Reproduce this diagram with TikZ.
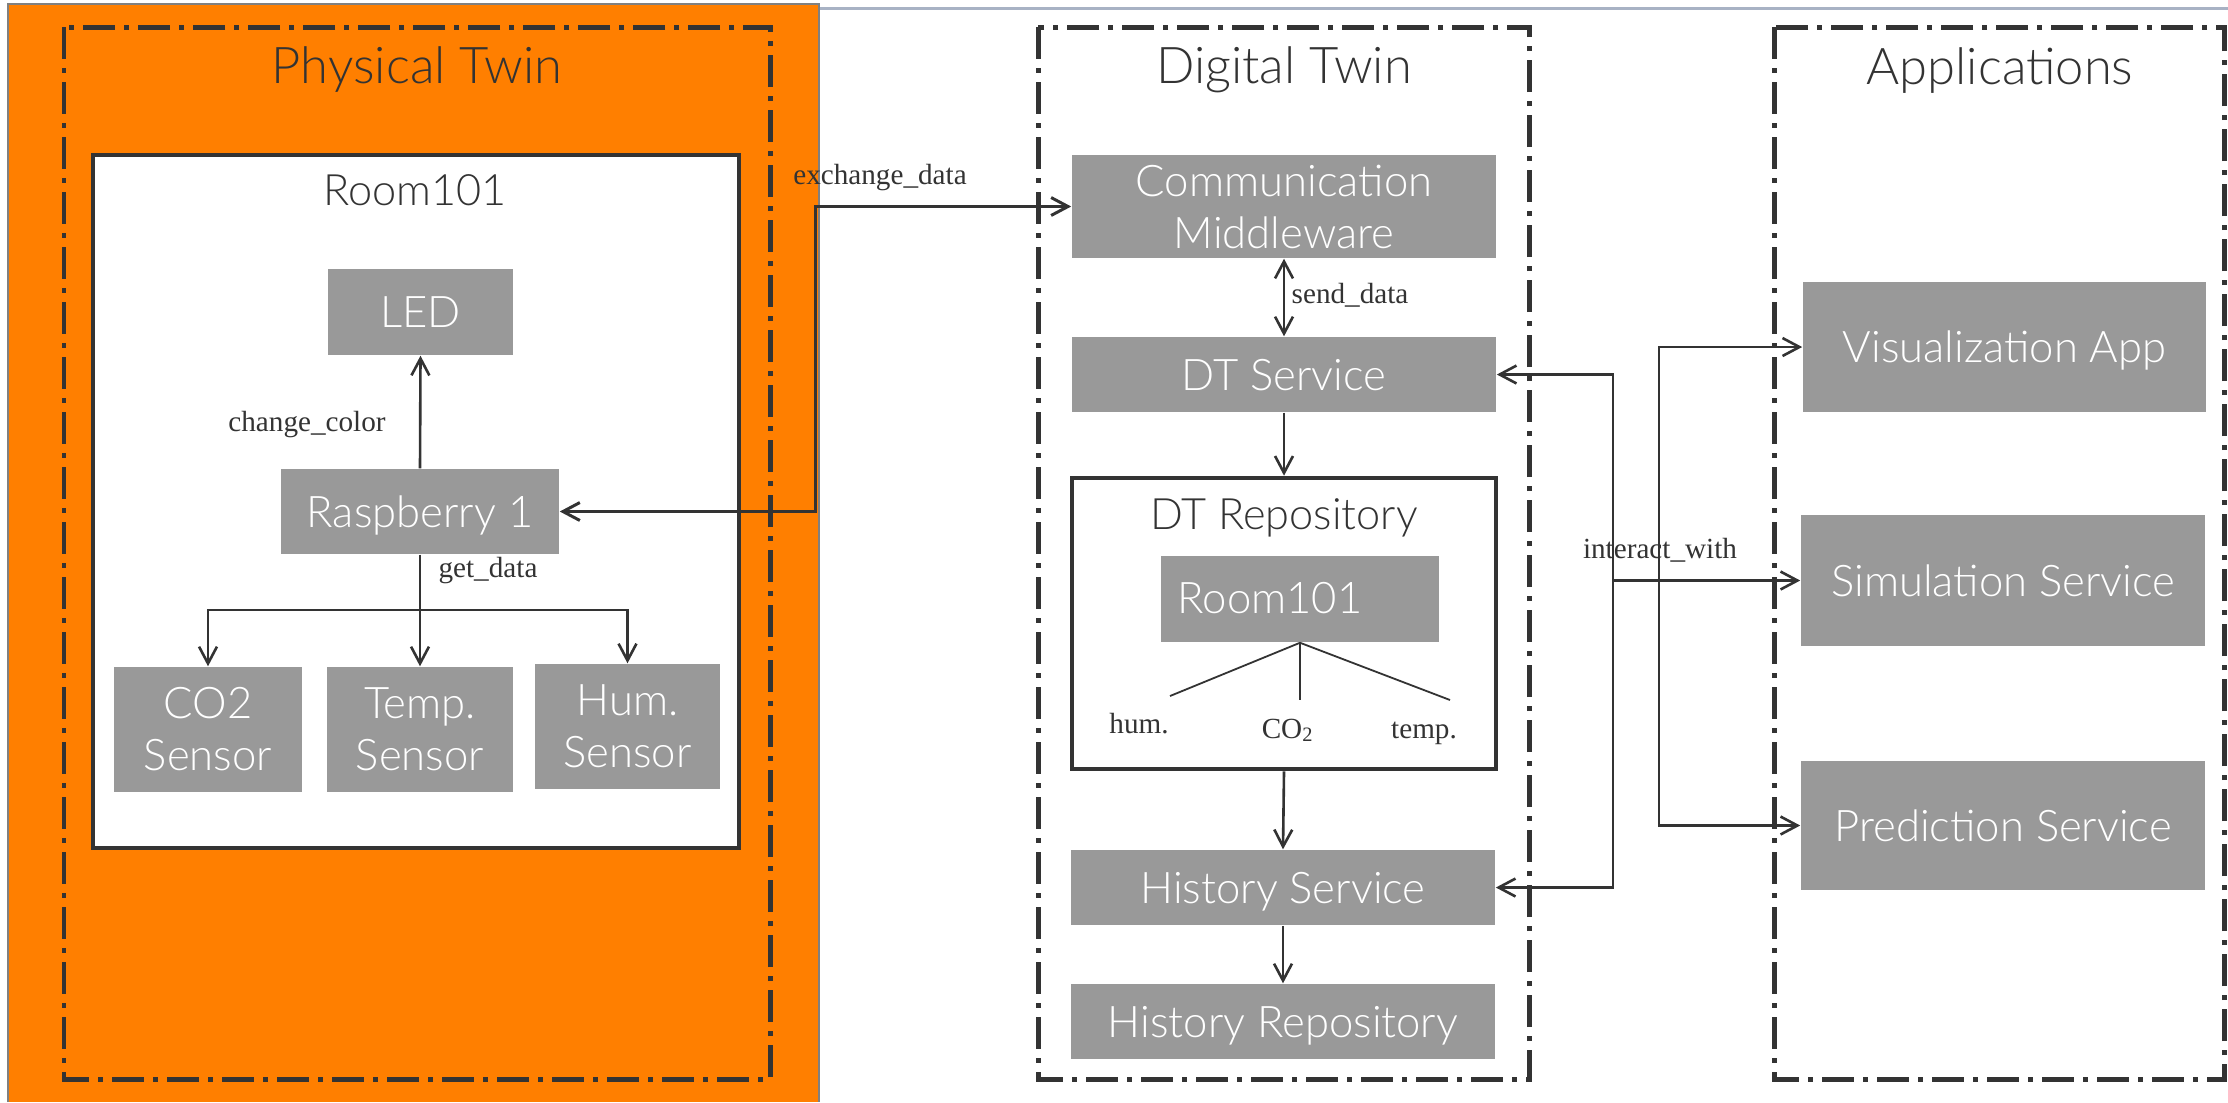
\documentclass[tikz,border=0pt]{standalone}
\usepackage{fontspec}
\usetikzlibrary{arrows.meta}
\IfFontExistsTF{Lato Light}{\newfontfamily\lightsans{Lato Light}}{\newfontfamily\lightsans{Lato}}
\newfontfamily\labelserif{Liberation Serif}
\definecolor{twinorange}{RGB}{255,127,0}
\definecolor{boxgray}{RGB}{153,153,153}
\definecolor{ink}{RGB}{51,51,51}
\definecolor{rulegray}{RGB}{168,178,196}
% one unit of the picture is 0.01cm (about 0.2845pt)
\tikzset{
  grouping/.style={draw=ink, line width=1.42pt, line cap=butt,
    dash pattern=on 9.1pt off 2.56pt on 1.42pt off 2.56pt},
  gbox/.style={fill=boxgray, text=white, inner sep=0pt, align=center,
    font=\lightsans\fontsize{12.4}{14.8}\selectfont},
  oneline/.style={text depth=0pt},
  framebox/.style={draw=ink, line width=1.28pt, fill=white},
  heading/.style={anchor=base, text=ink, inner sep=0pt,
    font=\lightsans\fontsize{14.4}{16}\selectfont},
  subheading/.style={anchor=base, text=ink, inner sep=0pt,
    font=\lightsans\fontsize{12.3}{14}\selectfont},
  lbl/.style={anchor=base, text=ink, inner sep=0pt,
    font=\labelserif\fontsize{8.3}{10}\selectfont},
  conn/.style={draw=ink, line width=0.74pt},
  twig/.style={draw=ink, line width=0.51pt},
  >={Straight Barb[length=4.8pt, width=5.1pt]}
}
\begin{document}
\begin{tikzpicture}[x=0.01cm, y=-0.01cm]
\useasboundingbox (0,0) rectangle (2228,1102);
\fill[white] (0,0) rectangle (2228,1102);

% window rule along the top
\draw[rulegray, line width=0.85pt] (819,8) -- (2228,8);

% physical side background
\fill[twinorange] (8,4) rectangle (819,1102);
\draw[gray, line width=0.43pt] (8,1102) -- (8,4) -- (819,4) -- (819,1102);

% the three groups
\draw[grouping] (64,27) rectangle (770,1079);
\draw[grouping] (1038,27) rectangle (1529,1079);
\draw[grouping] (1774,27) rectangle (2224,1079);
\node[heading] (ptitle) at (417,83) {Physical Twin};
\node[heading] (dtitle) at (1284,83) {Digital Twin};
\node[heading] (atitle) at (2000,84) {Applications};

% ---------------- physical twin ----------------
\draw[framebox] (93,155) rectangle (739,848);
\node[subheading] (roomtitle) at (415,205) {Room101};
\node[gbox, oneline, minimum width=1.85cm, minimum height=0.86cm] (led) at (420.5,312) {LED};
\node[gbox, oneline, minimum width=2.78cm, minimum height=0.85cm] (rasp) at (420,511.5) {Raspberry 1};
\node[gbox, minimum width=1.88cm, minimum height=1.25cm] (co2) at (208,729.5) {CO2\\Sensor};
\node[gbox, minimum width=1.86cm, minimum height=1.25cm] (temp) at (420,729.5) {Temp.\\Sensor};
\node[gbox, minimum width=1.85cm, minimum height=1.25cm] (hum) at (627.5,726.5) {Hum.\\Sensor};

\draw[conn, ->] (rasp.north) -- (led.south);
\node[lbl] (lcolor) at (307,431) {change\_color};

\coordinate (split) at (420,610);
\draw[conn, ->] (rasp.south) -- (temp.north);
\draw[conn, ->] (split) -| (co2.north);
\draw[conn, ->] (split) -| (hum.north);
\node[lbl] (lget) at (488,577) {get\_data};

% ---------------- digital twin ----------------
\node[gbox, minimum width=4.24cm, minimum height=1.03cm] (mw) at (1284,206.5) {Communication\\Middleware};
\node[gbox, oneline, minimum width=4.24cm, minimum height=0.75cm] (dts) at (1284,374.5) {DT Service};
\node[framebox, minimum width=4.24cm, minimum height=2.91cm, inner sep=0pt] (repo) at (1284,623.5) {};
\node[subheading] (repotitle) at (1284,529) {DT Repository};
\node[gbox, minimum width=2.78cm, minimum height=0.86cm] (droom) at (1300,599) {};
\node[gbox, fill=none, anchor=base] (droomtxt) at (1270,613) {Room101};
\coordinate (humend) at (1170,696);
\coordinate (co2end) at (1300,700);
\coordinate (tempend) at (1450,700);
\draw[twig] (droom.south) -- (humend);
\draw[twig] (droom.south) -- (co2end);
\draw[twig] (droom.south) -- (tempend);
\node[lbl] (lhum) at (1139,733) {hum.};
\node[lbl] (lco2) at (1288,738) {CO\textsubscript{2}};
\node[lbl] (ltemp) at (1424,738) {temp.};
\node[gbox, oneline, minimum width=4.24cm, minimum height=0.75cm] (hs) at (1283,887.5) {History Service};
\node[gbox, oneline, minimum width=4.24cm, minimum height=0.75cm] (hr) at (1283,1021.5) {History Repository};

\draw[conn, <->] (mw.south) -- (dts.north);
\node[lbl, anchor=base west] (lsend) at (1291,303) {send\_data};
\draw[conn, ->] (dts.south) -- (repo.north);
\draw[conn, ->] (repo.south) -- (hs.north);
\draw[conn, ->] (hs.south) -- (hr.north);

% physical to digital link
\coordinate (xbend) at (815,511.5);
\draw[conn, line width=0.85pt, <->] (rasp.east) -- (xbend) |- (mw.west);
\node[lbl] (lexch) at (880,184) {exchange\_data};

% ---------------- applications ----------------
\node[gbox, oneline, minimum width=4.03cm, minimum height=1.30cm] (vis) at (2004.5,347) {Visualization App};
\node[gbox, oneline, minimum width=4.04cm, minimum height=1.31cm] (sim) at (2003,580.5) {Simulation Service};
\node[gbox, oneline, minimum width=4.04cm, minimum height=1.29cm] (pred) at (2003,825.5) {Prediction Service};

\coordinate (ileft) at (1613,374.5);
\coordinate (isim) at (1613,580.5);
\coordinate (iright) at (1659,347);
\draw[conn, <->] (dts.east) -- (ileft) |- (hs.east);
\draw[conn, ->] (isim) -- (sim.west);
\draw[conn, <->] (vis.west) -- (iright) |- (pred.west);
\node[lbl] (linter) at (1660,558) {interact\_with};
\end{tikzpicture}
\end{document}
